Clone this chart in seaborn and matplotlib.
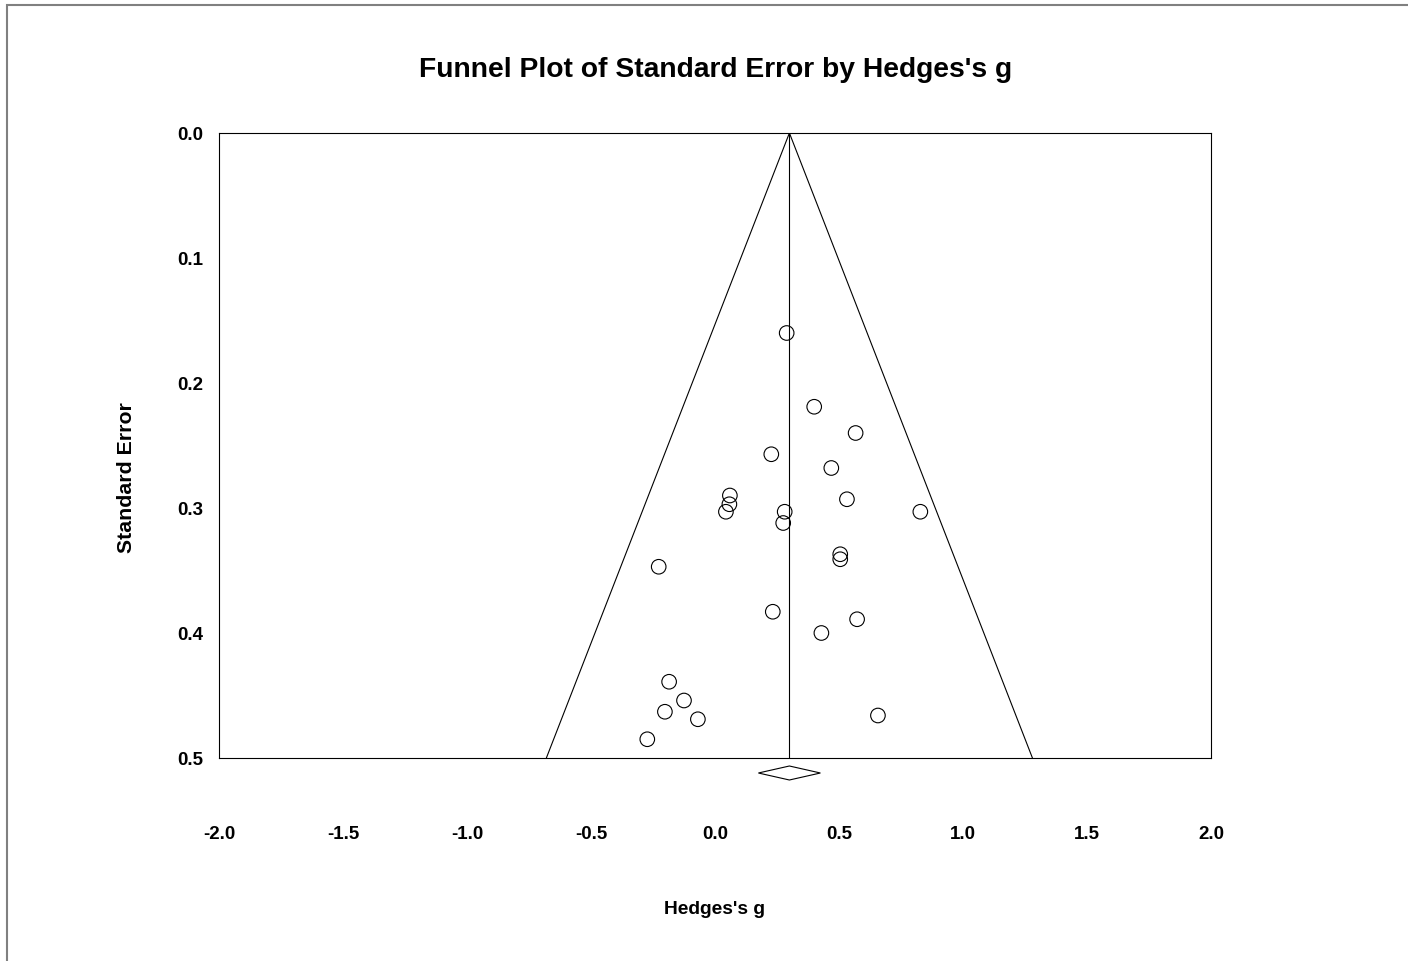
import numpy as np
import pandas as pd
import matplotlib
matplotlib.use("Agg")
import matplotlib.pyplot as plt
from matplotlib.patches import Polygon, Rectangle
import seaborn as sns

# ---- data ----
hedges_g = [0.289, 0.400, 0.567, 0.227, 0.469, 0.060, 0.058, 0.044, 0.532,
            0.281, 0.275, 0.828, 0.505, 0.505, -0.227, 0.233, 0.573, 0.429,
            -0.185, -0.125, -0.202, -0.069, 0.657, -0.273]
std_err = [0.160, 0.219, 0.240, 0.257, 0.268, 0.290, 0.297, 0.303, 0.293,
           0.303, 0.312, 0.303, 0.337, 0.341, 0.347, 0.383, 0.389, 0.400,
           0.439, 0.454, 0.463, 0.469, 0.466, 0.485]
summary_est = 0.30
summary_ci = [0.175, 0.425]
funnel_z = 1.96
se_max = 0.5
x_ticks = [-2.0, -1.5, -1.0, -0.5, 0.0, 0.5, 1.0, 1.5, 2.0]
y_ticks = [0.0, 0.1, 0.2, 0.3, 0.4, 0.5]
title = "Funnel Plot of Standard Error by Hedges's g"
x_label = "Hedges's g"
y_label = "Standard Error"

sns.set_theme(style="white")
plt.rcParams["font.family"] = ["Liberation Sans", "DejaVu Sans"]
plt.rcParams["font.weight"] = "bold"

W, H = 1408, 962
fig = plt.figure(figsize=(W / 100, H / 100), dpi=100, facecolor="white")
ax = fig.add_axes([219 / W, (H - 759) / H, (1211 - 219) / W, (759 - 134) / H])
ax.set_facecolor("white")

df = pd.DataFrame({"g": hedges_g, "se": std_err})
sns.scatterplot(data=df, x="g", y="se", ax=ax, marker="o", s=110,
                facecolor="none", edgecolor="black", linewidth=0.8, legend=False)
for coll in ax.collections:
    coll.set_facecolor("none")

# funnel (pseudo 95% limits) and summary line
se_line = np.array([0.0, se_max])
ax.plot(summary_est - funnel_z * se_line, se_line, color="black", lw=0.8)
ax.plot(summary_est + funnel_z * se_line, se_line, color="black", lw=0.8)
ax.plot([summary_est, summary_est], [0.0, se_max], color="black", lw=0.8)

# summary diamond below the axis
dy = 0.0056
yd = 0.512
diamond = Polygon([[summary_ci[0], yd], [summary_est, yd - dy],
                   [summary_ci[1], yd], [summary_est, yd + dy]],
                  closed=True, facecolor="white", edgecolor="black",
                  lw=0.8, clip_on=False, zorder=5)
ax.add_patch(diamond)

ax.set_xlim(x_ticks[0], x_ticks[-1])
ax.set_ylim(y_ticks[-1], y_ticks[0])
ax.set_xticks(x_ticks)
ax.set_xticklabels([f"{v:.1f}" for v in x_ticks], fontsize=13.5, fontweight="bold")
ax.set_yticks(y_ticks)
ax.set_yticklabels([f"{v:.1f}" for v in y_ticks], fontsize=13.5, fontweight="bold")
ax.tick_params(axis="x", direction="inout", length=4.3, width=0.8, pad=46,
               color="black", labelcolor="black")
ax.tick_params(axis="y", direction="out", length=2.5, width=0.8, pad=9,
               color="black", labelcolor="black")
for sp in ax.spines.values():
    sp.set_visible(True)
    sp.set_color("black")
    sp.set_linewidth(0.8)
ax.grid(False)

ax.set_xlabel(x_label, fontsize=13.8, fontweight="bold", va="baseline", color="black")
ax.xaxis.set_label_coords(0.5, (759 - 914) / (759 - 134))
ax.set_ylabel(y_label, fontsize=15.3, fontweight="bold", va="center", color="black")
ax.yaxis.set_label_coords((126 - 219) / (1211 - 219), (759 - 478) / (759 - 134))

fig.text(715.5 / W, 1 - 77 / H, title, ha="center", va="baseline",
         fontsize=20.3, fontweight="bold", color="black")

# grey outer frame (only top and left edges visible)
fig.patches.append(Rectangle((7 / W, -0.1), 1.2, (H - 6) / H + 0.1,
                             transform=fig.transFigure, fill=False,
                             edgecolor="#808080", lw=1.5, figure=fig))

fig.savefig("out.png", dpi=100, facecolor="white")
